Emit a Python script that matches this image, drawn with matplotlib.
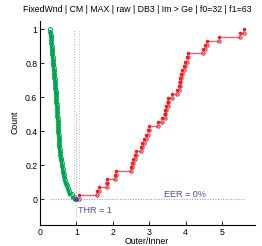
import numpy as np
import matplotlib
matplotlib.use('Agg')
import matplotlib.pyplot as plt

plt.rcParams['font.family'] = ['Liberation Sans', 'DejaVu Sans']

# datos
titulo = 'FixedWnd | CM | MAX | raw | DB3 | Im > Ge | f0=32 | f1=63'

# Outer/Inner - genuinos (verde), de arriba hacia abajo
verde = [0.28, 0.285, 0.29, 0.30, 0.305, 0.31, 0.32, 0.325, 0.33, 0.34,
         0.345, 0.35, 0.36, 0.365, 0.37, 0.38, 0.385, 0.39, 0.40, 0.405,
         0.41, 0.42, 0.425, 0.43, 0.44, 0.445, 0.45, 0.455, 0.46, 0.465,
         0.47, 0.475, 0.48, 0.485, 0.49, 0.49, 0.495, 0.50, 0.51, 0.515,
         0.52, 0.525, 0.53, 0.54, 0.55, 0.56, 0.57, 0.58, 0.59, 0.60,
         0.62, 0.63, 0.65, 0.66, 0.68, 0.71, 0.73, 0.76, 0.80, 0.88, 0.93]

# Outer/Inner - impostores (rojo)
rojo = [1.07, 1.55, 1.62, 1.84, 1.85, 2.05, 2.08, 2.50, 2.53, 2.56,
        2.60, 2.63, 2.76, 2.80, 2.84, 2.90, 2.95, 2.98, 3.24, 3.35,
        3.42, 3.44, 3.47, 3.50, 3.52, 3.63, 3.75, 3.81, 3.84, 3.85,
        3.87, 3.90, 3.95, 3.98, 4.04, 4.06, 4.47, 4.52, 4.58, 4.90,
        5.48, 5.61]

THR = 1.0
EER = 0.0

xticks = [0, 1, 2, 3, 4, 5]
yticks = [0, 0.2, 0.4, 0.6, 0.8, 1]
yticklabels = ['0', '0.2', '0.4', '0.6', '0.8', '1']

C_VERDE = '#00a651'
C_ROJO = '#ec1c24'
C_AZUL = '#4b4ba6'
FS = 6.3


def escalones(ax, xs, subiendo, color, lw, ms):
    xs = np.sort(np.array(xs, dtype=float))
    n = len(xs)
    k = np.arange(1, n + 1)
    if subiendo:
        antes = (k - 1) / n
        despues = k / n
    else:
        antes = 1 - (k - 1) / n
        despues = 1 - k / n
    # segmentos horizontales
    hx, hy = [], []
    for i in range(n - 1):
        hx += [xs[i], xs[i + 1], np.nan]
        hy += [despues[i], despues[i], np.nan]
    ax.plot(hx, hy, '-', color=color, lw=lw, alpha=0.7)
    ax.plot(xs, antes, 'o', mfc='none', mec=color, ms=ms, mew=0.7)
    ax.plot(xs, despues, '.', color=color, ms=ms + 0.6)


fig = plt.figure(figsize=(2.62, 2.46), dpi=100, facecolor='w')
ax = fig.add_axes([0.153, 0.0854, 0.82, 0.831])

# lineas punteadas verticales
ax.plot([max(verde), max(verde)], [0, 1], ':', color='#8fd8b0', lw=0.7)
ax.plot([min(rojo), min(rojo)], [0, 1], ':', color='#f5a8ac', lw=0.7)
ax.plot([THR, THR], [-0.1, 0.5], ':', color='#a8a8dc', lw=0.7)
ax.plot([min(verde), max(rojo)], [EER, EER], ':', color='#8c8cc8', lw=0.7)

escalones(ax, verde, False, C_VERDE, 1.4, 2.8)
escalones(ax, rojo, True, C_ROJO, 1.0, 2.4)

ax.plot(THR, EER, 'o', color=C_AZUL, ms=2.6)
ax.text(THR + 0.05, -0.065, 'THR = 1', color=C_AZUL, fontsize=6.5, va='center', ha='left')
ax.text(3.4, 0.03, 'EER = 0%', color=C_AZUL, fontsize=6.5, va='center', ha='left')

ax.set_xlim(0, 5.9)
ax.set_ylim(-0.15, 1.05)
ax.set_xticks(xticks)
ax.set_yticks(yticks)
ax.set_yticklabels(yticklabels)
ax.tick_params(direction='in', length=3, width=0.6, labelsize=FS, pad=2)
ax.spines['top'].set_visible(False)
ax.spines['right'].set_visible(False)
ax.spines['left'].set_linewidth(0.8)
ax.spines['bottom'].set_linewidth(0.8)

ax.set_ylabel('Count', fontsize=FS, labelpad=4)
fig.text(147 / 262, 0.5 / 246, 'Outer/Inner', fontsize=FS, ha='center', va='bottom')
fig.text(137 / 262, 1 - 10 / 246, titulo, fontsize=FS, ha='center', va='center')

fig.savefig('out.png', dpi=100)
